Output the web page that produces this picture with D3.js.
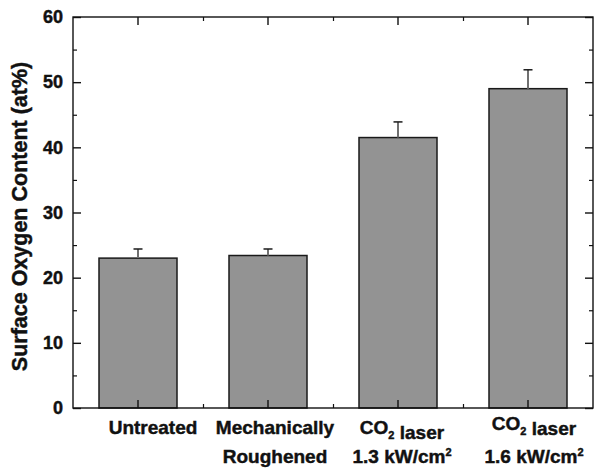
<!DOCTYPE html>
<html>
<head>
<meta charset="utf-8">
<script src="https://cdn.jsdelivr.net/npm/d3@7"></script>
<style>
  body { margin: 0; background: #fff; }
  svg { display: block; font-family: "Liberation Sans", Arial, sans-serif; font-weight: bold; }
  svg text { stroke: #111; stroke-width: 0.45px; }
</style>
</head>
<body>
<div id="chart"></div>
<script>
// Data
const categories = ["Untreated", "Mechanically Roughened", "CO2 laser 1.3 kW/cm2", "CO2 laser 1.6 kW/cm2"];
const oxygen = [23.0, 23.4, 41.5, 49.0];
const errors = [1.4, 1.0, 2.4, 2.9];
const yMajorTicks = [0, 10, 20, 30, 40, 50, 60];
const yMinorTicks = [5, 15, 25, 35, 45, 55];
// label lines, "_x" = subscript, "^x" = superscript
const labelLines = [["Untreated"], ["Mechanically", "Roughened"], ["CO_2 laser", "1.3 kW/cm^2"], ["CO_2 laser", "1.6 kW/cm^2"]];
const labelShift = [15, 7, 4, 6];   // small horizontal nudges seen in the figure
const labelRaise = [0, 0, 0, -4];

const W = 594, H = 468;
const margin = { top: 17, right: 1, bottom: 60, left: 73 };
const plotW = W - margin.left - margin.right;
const plotH = H - margin.top - margin.bottom;

const svg = d3.select("#chart").append("svg")
    .attr("width", W)
    .attr("height", H);

const g = svg.append("g")
    .attr("transform", `translate(${margin.left}, ${margin.top})`);

// Scales
const x = d3.scaleBand()
    .domain(categories)
    .range([0, plotW])
    .paddingInner(0.4)
    .paddingOuter(0.2);

const xMid = d3.scaleLinear()
    .domain([0.5, categories.length + 0.5])
    .range([0, plotW]);

const y = d3.scaleLinear()
    .domain([0, 60])
    .range([plotH, 0]);

// Bars
g.selectAll("rect.bar")
    .data(categories)
    .enter()
    .append("rect")
    .attr("class", "bar")
    .attr("x", d => x(d))
    .attr("y", (d, i) => y(oxygen[i]))
    .attr("width", x.bandwidth())
    .attr("height", (d, i) => plotH - y(oxygen[i]))
    .attr("fill", "#939393")
    .attr("stroke", "#1a1a1a")
    .attr("stroke-width", 1.5);

// Error bars (upper half only)
const err = g.selectAll("g.err")
    .data(categories)
    .enter()
    .append("g")
    .attr("class", "err");

err.append("line")
    .attr("x1", d => x(d) + x.bandwidth() / 2)
    .attr("x2", d => x(d) + x.bandwidth() / 2)
    .attr("y1", (d, i) => y(oxygen[i]))
    .attr("y2", (d, i) => y(oxygen[i] + errors[i]))
    .attr("stroke", "#707070")
    .attr("stroke-width", 2);

err.append("line")
    .attr("x1", d => x(d) + x.bandwidth() / 2 - 4.5)
    .attr("x2", d => x(d) + x.bandwidth() / 2 + 4.5)
    .attr("y1", (d, i) => y(oxygen[i] + errors[i]))
    .attr("y2", (d, i) => y(oxygen[i] + errors[i]))
    .attr("stroke", "#1a1a1a")
    .attr("stroke-width", 1.5);

// Axes: ticks pointing inward on all four sides
function styleAxis(sel, width) {
    sel.select(".domain").remove();
    sel.selectAll(".tick line").attr("stroke", "#111").attr("stroke-width", width);
}

g.append("g")
    .call(d3.axisLeft(y).tickValues(yMajorTicks).tickSizeInner(-8).tickSizeOuter(0).tickPadding(10))
    .call(s => styleAxis(s, 1.4))
    .selectAll("text")
    .attr("fill", "#111")
    .style("font-size", "18px")
    .style("font-family", "'Liberation Sans', Arial, sans-serif");

g.append("g")
    .call(d3.axisLeft(y).tickValues(yMinorTicks).tickSizeInner(-4).tickSizeOuter(0).tickFormat(""))
    .call(s => styleAxis(s, 1.2));

g.append("g")
    .attr("transform", `translate(${plotW}, 0)`)
    .call(d3.axisRight(y).tickValues(yMajorTicks).tickSizeInner(-8).tickSizeOuter(0).tickFormat(""))
    .call(s => styleAxis(s, 1.4));

g.append("g")
    .attr("transform", `translate(${plotW}, 0)`)
    .call(d3.axisRight(y).tickValues(yMinorTicks).tickSizeInner(-4).tickSizeOuter(0).tickFormat(""))
    .call(s => styleAxis(s, 1.2));

g.append("g")
    .attr("transform", `translate(0, ${plotH})`)
    .call(d3.axisBottom(x).tickSizeInner(-8).tickSizeOuter(0).tickFormat(""))
    .call(s => styleAxis(s, 1.4));

g.append("g")
    .attr("transform", `translate(0, ${plotH})`)
    .call(d3.axisBottom(xMid).tickValues([1.5, 2.5, 3.5]).tickSizeInner(-4).tickSizeOuter(0).tickFormat(""))
    .call(s => styleAxis(s, 1.2));

g.append("g")
    .call(d3.axisTop(x).tickSizeInner(-8).tickSizeOuter(0).tickFormat(""))
    .call(s => styleAxis(s, 1.4));

g.append("g")
    .call(d3.axisTop(xMid).tickValues([1.5, 2.5, 3.5]).tickSizeInner(-4).tickSizeOuter(0).tickFormat(""))
    .call(s => styleAxis(s, 1.2));

// Frame
g.append("rect")
    .attr("width", plotW)
    .attr("height", plotH)
    .attr("fill", "none")
    .attr("stroke", "#111")
    .attr("stroke-width", 1.4);

// Category labels (with sub/superscripts)
function addRichLine(textSel, str) {
    const parts = str.split(/([_^].)/).filter(p => p.length);
    parts.forEach(p => {
        if (p[0] === "_") {
            textSel.append("tspan").attr("dy", 5).style("font-size", "11px").text(p[1]);
            textSel.append("tspan").attr("dy", -5).text("");
        } else if (p[0] === "^") {
            textSel.append("tspan").attr("dy", -7).style("font-size", "11px").text(p[1]);
            textSel.append("tspan").attr("dy", 7).text("");
        } else {
            textSel.append("tspan").text(p);
        }
    });
}

labelLines.forEach((lines, i) => {
    const cx = x(categories[i]) + x.bandwidth() / 2 + labelShift[i];
    lines.forEach((line, j) => {
        const t = g.append("text")
            .attr("x", cx)
            .attr("y", plotH + 26 + j * 29 + (j === 0 ? labelRaise[i] : 0))
            .attr("text-anchor", "middle")
            .attr("fill", "#111")
            .style("font-size", "19px");
        addRichLine(t, line);
    });
});

// Y axis title
svg.append("text")
    .attr("transform", `translate(27, ${margin.top + plotH / 2 + 4}) rotate(-90)`)
    .attr("text-anchor", "middle")
    .attr("fill", "#111")
    .style("font-size", "21.5px")
    .text("Surface Oxygen Content (at%)");
</script>
</body>
</html>
